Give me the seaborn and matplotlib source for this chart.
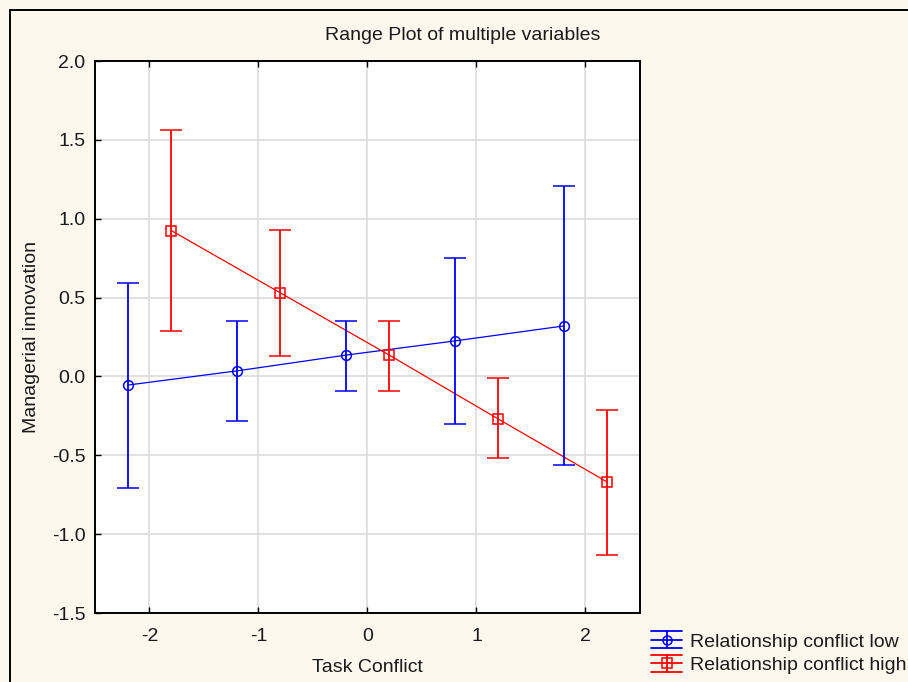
import matplotlib
matplotlib.use("Agg")
import matplotlib.pyplot as plt
from matplotlib.legend_handler import HandlerBase
from matplotlib.lines import Line2D
import numpy as np
import pandas as pd
import seaborn as sns

# Task conflict levels and the two relationship-conflict groups
task_levels = [-2, -1, 0, 1, 2]
offset_low = -0.2
offset_high = 0.2

low_mean = [-0.055, 0.035, 0.135, 0.225, 0.32]
low_upper = [0.59, 0.35, 0.35, 0.75, 1.21]
low_lower = [-0.71, -0.28, -0.09, -0.30, -0.56]

high_mean = [0.925, 0.53, 0.135, -0.27, -0.67]
high_upper = [1.56, 0.93, 0.35, -0.01, -0.21]
high_lower = [0.29, 0.13, -0.09, -0.52, -1.13]

series_names = ["Relationship conflict low", "Relationship conflict high"]
colors = ["#0000ff", "#ff0000"]
markers = ["o", "s"]

sns.set_theme(style="white")
plt.rcParams["font.family"] = ["Liberation Sans", "DejaVu Sans"]

bg = "#fdf8ed"
txt = "#1a1a1a"
fs = 14
fig = plt.figure(figsize=(9.08, 6.82), dpi=100, facecolor=bg)
ax = fig.add_axes([95 / 908, 69 / 682, 545 / 908, 552 / 682])
ax.set_facecolor("white")

rows = []
for name, off, m, lo, hi in [
    (series_names[0], offset_low, low_mean, low_lower, low_upper),
    (series_names[1], offset_high, high_mean, high_lower, high_upper),
]:
    for t, mv, l, u in zip(task_levels, m, lo, hi):
        rows.append({"series": name, "x": t + off, "mean": mv, "lower": l, "upper": u})
df = pd.DataFrame(rows)

# connecting lines through the group means
sns.lineplot(data=df, x="x", y="mean", hue="series", palette=colors,
             hue_order=series_names, linewidth=0.9, legend=False, ax=ax,
             sort=True, estimator=None)

handles = []
for name, col, mk in zip(series_names, colors, markers):
    sub = df[df["series"] == name]
    yerr = np.vstack([sub["mean"] - sub["lower"], sub["upper"] - sub["mean"]])
    cont = ax.errorbar(sub["x"], sub["mean"], yerr=yerr, fmt=mk, color=col,
                       mfc="none", mec=col, ms=7, mew=1.1, elinewidth=1.3,
                       capsize=8, capthick=1.3, label=name, zorder=3)
    handles.append(cont)

ax.set_xlim(-2.5, 2.5)
ax.set_ylim(-1.5, 2.0)
ax.set_xticks(task_levels)
ax.set_xticklabels([str(t) for t in task_levels])
yt = np.arange(-1.5, 2.01, 0.5)
ax.set_yticks(yt)
ax.set_yticklabels([f"{v:.1f}" for v in yt])
ax.grid(True, color="#dcdcdc", linewidth=1.2)
ax.set_axisbelow(True)

for sp in ax.spines.values():
    sp.set_color("black")
    sp.set_linewidth(1.4)
ax.tick_params(direction="in", length=4, width=1.0, colors="black",
               labelsize=fs, top=True, bottom=True, left=True, right=False,
               labelcolor=txt)
ax.tick_params(axis="x", pad=11)
ax.tick_params(axis="y", pad=7)

ax.set_xlabel("Task Conflict", fontsize=fs, color=txt)
ax.xaxis.set_label_coords(0.5, -(668 - 613) / 552)
ax.xaxis.label.set_va("center")
ax.set_ylabel("Managerial innovation", fontsize=fs, color=txt)
ax.yaxis.set_label_coords(-(95 - 31) / 545, 0.5)
ax.yaxis.label.set_va("center")

fig.text(463 / 908, 1 - 35 / 682, "Range Plot of multiple variables",
         fontsize=fs, color=txt, ha="center", va="center")


class RangeHandler(HandlerBase):
    """Legend key: three horizontal bars, a vertical stem and the marker."""

    def create_artists(self, legend, orig_handle, xdescent, ydescent,
                       width, height, fontsize, trans):
        data_line = orig_handle.lines[0]
        col = data_line.get_markeredgecolor()
        mk = data_line.get_marker()
        x0, x1 = -xdescent, -xdescent + width
        xm = (x0 + x1) / 2
        ym = -ydescent + height / 2
        half = 6.0
        yb, yt_ = ym - half, ym + half
        arts = []
        for yy in (yb, ym, yt_):
            arts.append(Line2D([x0, x1], [yy, yy], color=col, lw=1.3))
        arts.append(Line2D([xm, xm], [yb, yt_], color=col, lw=1.3))
        arts.append(Line2D([xm], [ym], marker=mk, color=col, mfc="none",
                           mec=col, ms=6.5, mew=1.1, ls="none"))
        for a in arts:
            a.set_transform(trans)
        return arts


lfs = 14
fig.legend(handles=handles, labels=series_names, loc="lower left",
           bbox_to_anchor=(651 / 908, 8 / 682), frameon=False, fontsize=lfs,
           handlelength=1.6, handletextpad=0.4, labelspacing=0.3,
           borderpad=0.0, borderaxespad=0.0, labelcolor=txt,
           handler_map={type(handles[0]): RangeHandler()})

# outer frame lines along the top and left of the figure
fig.add_artist(Line2D([10 / 908, 1.0], [1 - 10 / 682, 1 - 10 / 682],
                      transform=fig.transFigure, color="black", lw=1.4))
fig.add_artist(Line2D([10 / 908, 10 / 908], [0.0, 1 - 10 / 682],
                      transform=fig.transFigure, color="black", lw=1.4))

fig.savefig("out.png", dpi=100, facecolor=bg)
